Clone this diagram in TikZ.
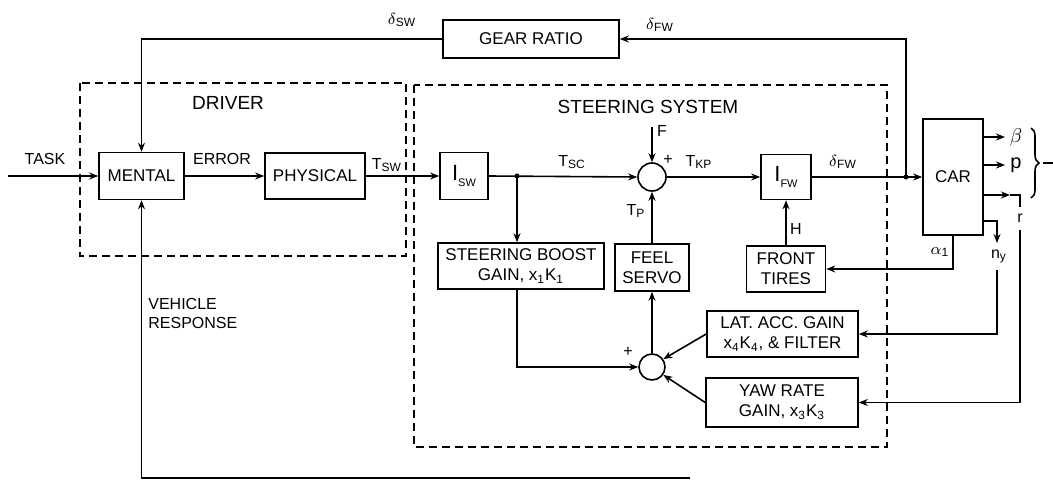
\documentclass[tikz,border=0pt]{standalone}
\usepackage{fontspec}
\setmainfont{Liberation Sans}
\usetikzlibrary{arrows.meta, decorations.pathreplacing}

\tikzset{
  blk/.style={draw, line width=0.8pt, align=center, inner sep=1pt, font=\fontsize{8.5}{10}\selectfont},
  sumnode/.style={draw, circle, line width=0.8pt, inner sep=0pt},
  grp/.style={draw, line width=0.8pt, dash pattern=on 4pt off 2.5pt},
  sig/.style={line width=0.8pt},
  lbl/.style={inner sep=1pt, font=\fontsize{8}{9.5}\selectfont},
  ttl/.style={inner sep=1pt, font=\fontsize{9.5}{11}\selectfont},
  >={Stealth[length=4.5pt,width=3.5pt]}
}
\newcommand\sbs[1]{\textsubscript{#1}}

\begin{document}
\begin{tikzpicture}[x=0.5pt, y=-0.5pt]
  \useasboundingbox (0,0) rectangle (1053,481);

  % groups
  \draw[grp] (80,83) rectangle (406,256);
  \draw[grp] (414,85) rectangle (887,447);
  \node[ttl] (driverlbl) at (228,103) {DRIVER};
  \node[ttl] (steerlbl) at (648,107) {STEERING SYSTEM};

  % blocks
  \node[blk, minimum width=42.5pt, minimum height=23.5pt] (mental) at (141.5,176) {MENTAL};
  \node[blk, minimum width=50pt, minimum height=23pt] (physical) at (315,176) {PHYSICAL};
  \node[blk, minimum width=88pt, minimum height=19pt] (gear) at (531,39) {GEAR RATIO};
  \node[blk, minimum width=24pt, minimum height=23.5pt] (isw) at (464,176) {\fontsize{11}{11}\selectfont$\mathrm{I}$\raisebox{-3pt}{\fontsize{5.5}{6}\selectfont SW}};
  \node[blk, minimum width=25pt, minimum height=22.5pt] (ifw) at (786,177) {\fontsize{11}{11}\selectfont$\mathrm{I}$\raisebox{-3pt}{\fontsize{5.5}{6}\selectfont FW}};
  \node[blk, minimum width=30pt, minimum height=58pt] (car) at (953,177) {CAR};
  \node[sumnode, minimum size=14pt] (sumA) at (652,177) {};
  \node[blk, minimum width=83pt, minimum height=23pt] (boost) at (521,266) {STEERING BOOST\\GAIN, x\sbs{1}K\sbs{1}};
  \node[blk, minimum width=37pt, minimum height=23.5pt] (feel) at (652,267.5) {FEEL\\SERVO};
  \node[blk, minimum width=39.5pt, minimum height=23pt] (tires) at (786,269) {FRONT\\TIRES};
  \node[sumnode, minimum size=13pt] (sumB) at (652,367) {};
  \node[blk, minimum width=75.5pt, minimum height=23pt] (latacc) at (782.5,334) {LAT. ACC. GAIN\\x\sbs{4}K\sbs{4}, \& FILTER};
  \node[blk, minimum width=76pt, minimum height=24.5pt] (yaw) at (782,402.5) {YAW RATE\\GAIN, x\sbs{3}K\sbs{3}};

  % free ends
  \coordinate (task) at (8,176);
  \coordinate (tap) at (906,177);
  \coordinate (br) at (517,176);
  \coordinate (fin) at (652,127);
  \coordinate (betaend) at (1005,137);
  \coordinate (pend) at (1005,165);
  \coordinate (rtip) at (1010,195);
  \coordinate (rcorner) at (1020,195);
  \coordinate (rstub) at (1020,207);
  \coordinate (rback) at (1020,230);
  \coordinate (nyin) at (997,221);
  \coordinate (nyend) at (997,243);
  \coordinate (nyback) at (997,270);
  \coordinate (vrend) at (690,478);

  % signals
  \draw[sig,->] (task) -- (mental.west);
  \draw[sig,->] (mental.east) -- (physical.west);
  \draw[sig,->] (physical.east) -- (isw.west);
  \draw[sig,->] (isw.east) -- (sumA.west);
  \draw[sig,->] (fin) -- (sumA.north);
  \draw[sig,->] (sumA.east) -- (ifw.west);
  \draw[sig,->] (ifw.east) -- (car.west);
  \fill (tap) circle (2.5);
  \fill (br) circle (2.5);
  \draw[sig,->] (tap) |- (gear.east);
  \draw[sig,->] (gear.west) -| (mental.north);
  \draw[sig,->] (br) -- (br |- boost.north);
  \draw[sig,->] (feel.north) -- (sumA.south);
  \draw[sig,->] (tires.north) -- (ifw.south);
  \draw[sig,->] (br |- boost.south) |- (sumB.west);
  \draw[sig,->] (sumB.north) -- (feel.south);
  \draw[sig,->] (latacc.west) -- (sumB.35);
  \draw[sig,->] (yaw.west) -- (sumB.-35);
  \draw[sig,->] (car.south) |- (tires.east);
  \draw[sig,->] (car.east |- betaend) -- (betaend);
  \draw[sig,->] (car.east |- pend) -- (pend);
  \draw[sig,->] (car.east |- rtip) -- (rtip);
  \draw[sig] (rtip) -- (rcorner) -- (rstub);
  \draw[sig,->] (rback) |- (yaw.east);
  \draw[sig,->] (car.east |- nyin) -- (nyin) -- (nyend);
  \draw[sig,->] (nyback) |- (latacc.east);
  \draw[sig,->] (vrend) -| (mental.south);
  \draw[sig, decorate, decoration={brace, amplitude=4pt}] (1031,128) -- (1031,198);
  \draw[sig] (1043,163) -- (1053,163);

  % labels
  \node[lbl] (tasklbl) at (45,159) {TASK};
  \node[lbl] (errlbl) at (222,159) {ERROR};
  \node[lbl] (tswlbl) at (387,165) {T\sbs{SW}};
  \node[lbl] (dswlbl) at (402,20) {$\delta$\sbs{SW}};
  \node[lbl] (dfwtop) at (660,25) {$\delta$\sbs{FW}};
  \node[lbl] (tsclbl) at (572,162) {T\sbs{SC}};
  \node[lbl] (flbl) at (662,131) {F};
  \node[lbl] (pluslbl) at (668,160) {+};
  \node[lbl] (tkplbl) at (699,162) {T\sbs{KP}};
  \node[lbl] (tplbl) at (636,211) {T\sbs{P}};
  \node[lbl] (hlbl) at (796,229) {H};
  \node[lbl] (dfwlbl) at (843,162) {$\delta$\sbs{FW}};
  \node[lbl] (plusb) at (628,352) {+};
  \node[lbl] (albl) at (940,252) {$\alpha$\sbs{1}};
  \node[lbl] (nylbl) at (999,256) {n\sbs{y}};
  \node[lbl] (rlbl) at (1020,218) {r};
  \node[lbl, font=\fontsize{10}{11}\selectfont] (betalbl) at (1016,137) {$\beta$};
  \node[lbl, font=\fontsize{10}{11}\selectfont] (plbl) at (1016,165) {p};
  \node[lbl, anchor=north west, align=left] (vresp) at (146,296) {VEHICLE\\RESPONSE};
\end{tikzpicture}
\end{document}
